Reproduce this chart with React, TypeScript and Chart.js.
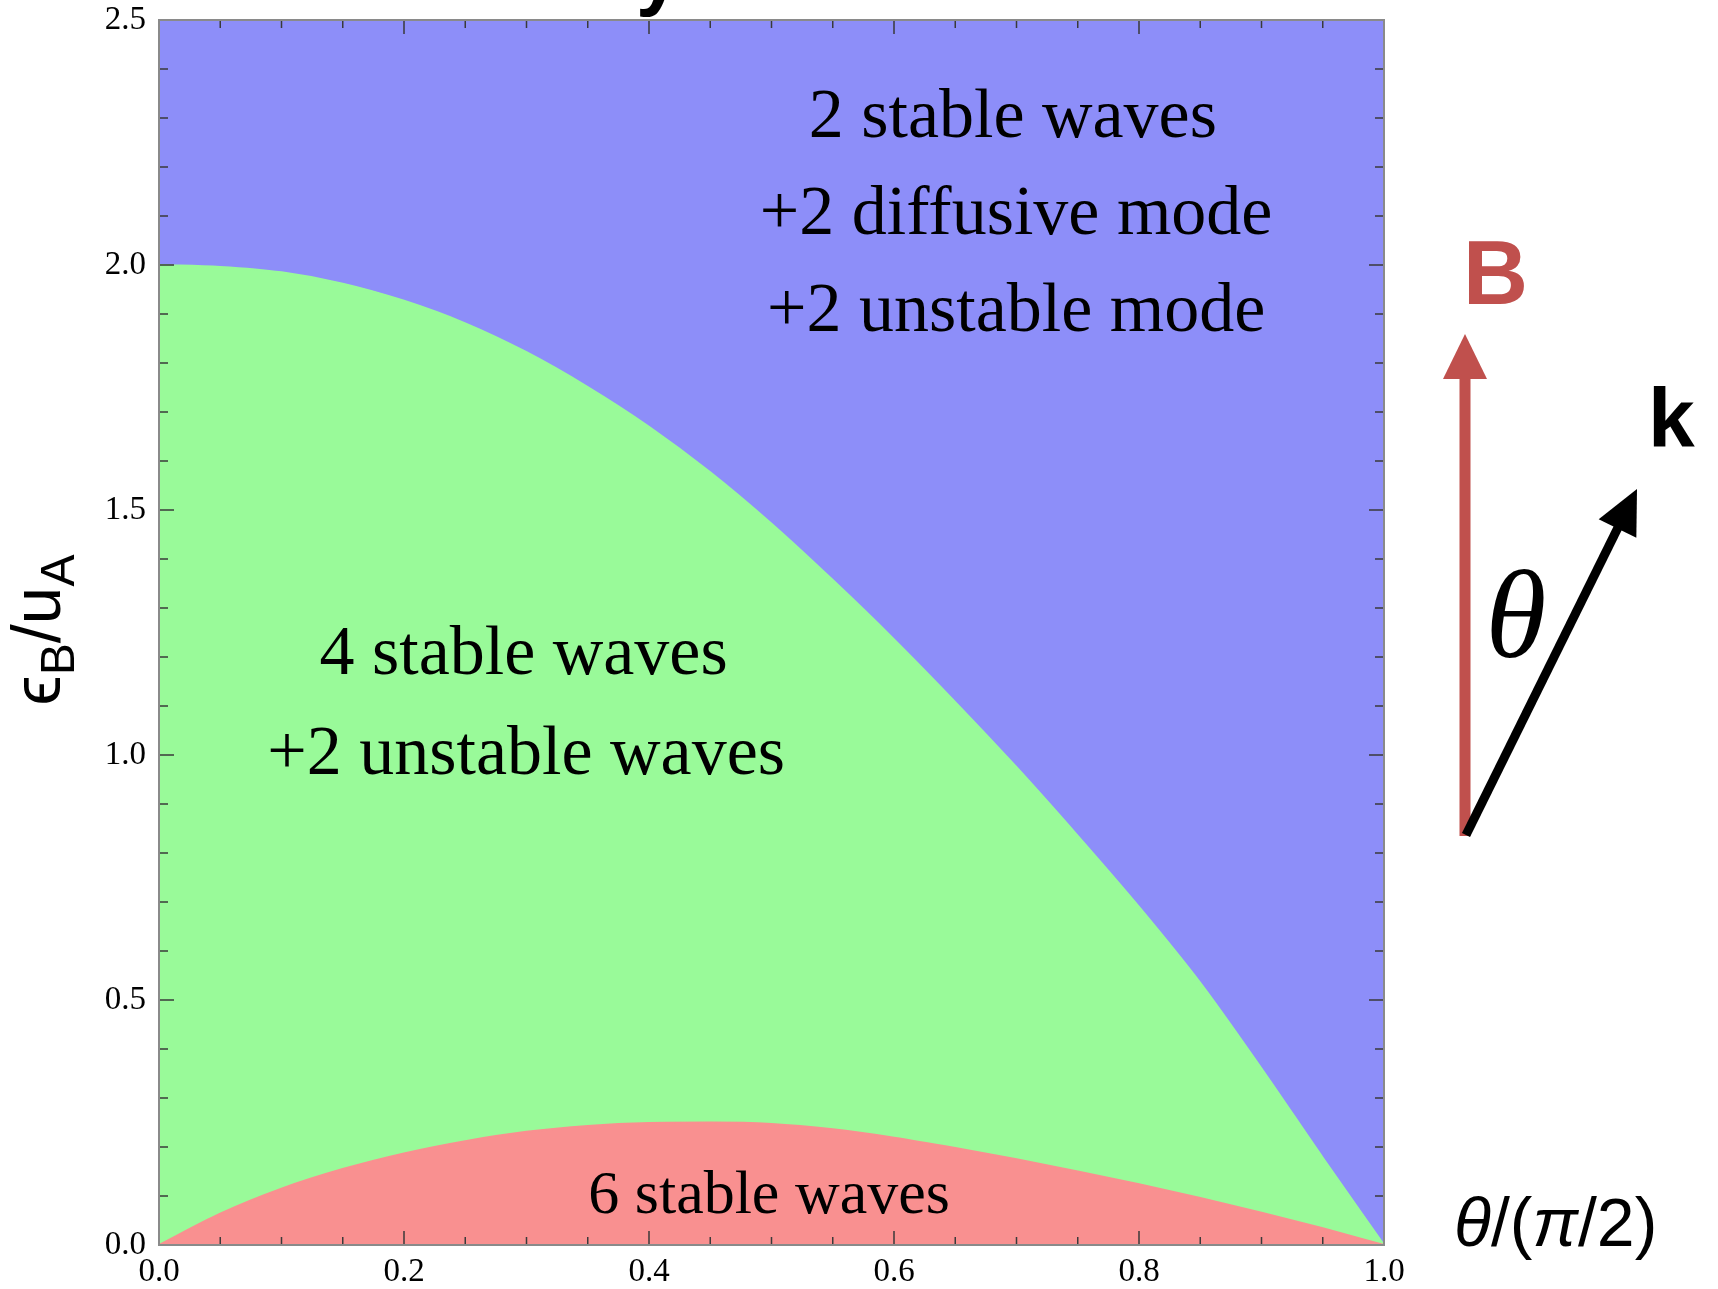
import React, { useEffect, useRef } from 'react';
import { Chart, registerables } from 'chart.js';

Chart.register(...registerables);

// θ/(π/2) sample positions
const thetaValues = [0, 0.05, 0.1, 0.15, 0.2, 0.25, 0.3, 0.35, 0.4, 0.45, 0.5, 0.55, 0.6, 0.65, 0.7, 0.75, 0.8, 0.85, 0.9, 0.95, 1.0];
// boundary between "4 stable + 2 unstable" (green) and "2 stable + diffusive + unstable" (blue)
const upperBoundary = [2.0, 1.996, 1.985, 1.962, 1.927, 1.881, 1.822, 1.751, 1.67, 1.577, 1.472, 1.357, 1.236, 1.108, 0.975, 0.835, 0.69, 0.535, 0.36, 0.178, 0.0];
// boundary between "6 stable waves" (red) and the green region
const lowerBoundary = [0.0, 0.064, 0.115, 0.155, 0.187, 0.212, 0.231, 0.243, 0.249, 0.25, 0.247, 0.236, 0.219, 0.198, 0.175, 0.15, 0.124, 0.096, 0.066, 0.034, 0.0];

const xTickValues = [0, 0.2, 0.4, 0.6, 0.8, 1.0];
const yTickValues = [0, 0.5, 1.0, 1.5, 2.0, 2.5];

const regionTexts = ['2 stable waves', '+2 diffusive mode', '+2 unstable mode', '4 stable waves', '+2 unstable waves', '6 stable waves'];
const regionTextX = [0.697, 0.6997, 0.6997, 0.2976, 0.2997, 0.498];
const regionTextY = [2.261, 2.064, 1.865, 1.165, 0.962, 0.0647];
const regionTextSize = [70, 70, 70, 70, 70, 62];

const BLUE = '#8d8ef9';
const GREEN = '#99fa99';
const RED = '#f99090';
const SERIF = '"Liberation Serif", "Times New Roman", serif';
const SANS = '"Liberation Sans", Arial, "DejaVu Sans", sans-serif';

const decorPlugin = {
  id: 'decor',
  afterDraw(chart: any) {
    const ctx = chart.ctx as CanvasRenderingContext2D;
    const xs = chart.scales.x;
    const ys = chart.scales.y;
    const { left, right, top, bottom } = chart.chartArea;
    ctx.save();

    // tick marks (inside, mirrored)
    ctx.strokeStyle = '#3a3a3a';
    ctx.lineWidth = 1.5;
    for (let i = 0; i <= 20; i++) {
      const v = i / 20;
      const px = xs.getPixelForValue(v);
      const len = i % 4 === 0 ? 14 : 8;
      ctx.beginPath();
      ctx.moveTo(px, bottom);
      ctx.lineTo(px, bottom - len);
      ctx.moveTo(px, top);
      ctx.lineTo(px, top + len);
      ctx.stroke();
    }
    for (let i = 0; i <= 25; i++) {
      const v = i / 10;
      const py = ys.getPixelForValue(v);
      const len = i % 5 === 0 ? 15 : 9;
      ctx.beginPath();
      ctx.moveTo(left, py);
      ctx.lineTo(left + len, py);
      ctx.moveTo(right, py);
      ctx.lineTo(right - len, py);
      ctx.stroke();
    }
    // frame
    ctx.strokeStyle = '#8a8a8a';
    ctx.lineWidth = 2;
    ctx.strokeRect(left, top, right - left, bottom - top);

    // region annotations
    ctx.fillStyle = '#000';
    ctx.textAlign = 'center';
    ctx.textBaseline = 'alphabetic';
    regionTexts.forEach((t, i) => {
      ctx.font = `${regionTextSize[i]}px ${SERIF}`;
      ctx.fillText(t, xs.getPixelForValue(regionTextX[i]), ys.getPixelForValue(regionTextY[i]));
    });

    // y-axis title: ϵB/uA with subscripts
    ctx.save();
    ctx.translate(60, 630);
    ctx.rotate(-Math.PI / 2);
    const mainFont = `68px ${SANS}`;
    const subFont = `48px ${SANS}`;
    const parts: [string, boolean][] = [['ϵ', false], ['B', true], ['/', false], ['u', false], ['A', true]];
    let total = 0;
    const widths = parts.map(([s, sub]) => {
      ctx.font = sub ? subFont : mainFont;
      const w = ctx.measureText(s).width;
      total += w;
      return w;
    });
    let cx = -total / 2;
    ctx.textAlign = 'left';
    parts.forEach(([s, sub], i) => {
      ctx.font = sub ? subFont : mainFont;
      ctx.fillText(s, cx, sub ? 14 : 0);
      cx += widths[i];
    });
    ctx.restore();

    // x-axis title: θ/(π/2)
    ctx.textAlign = 'left';
    let xx = 1454;
    const xParts: [string, boolean][] = [['θ', true], ['/(', false], ['π', true], ['/2)', false]];
    xParts.forEach(([s, it]) => {
      ctx.font = `${it ? 'italic ' : ''}68px ${SANS}`;
      ctx.fillText(s, xx, 1246);
      xx += ctx.measureText(s).width;
    });

    // title fragment (cut off at top)
    ctx.font = `bold 80px ${SANS}`;
    ctx.fillText('y', 636, 0);

    // B arrow
    ctx.strokeStyle = '#c0504d';
    ctx.fillStyle = '#c0504d';
    ctx.lineWidth = 11;
    ctx.beginPath();
    ctx.moveTo(1465, 836);
    ctx.lineTo(1465, 376);
    ctx.stroke();
    ctx.beginPath();
    ctx.moveTo(1465, 334);
    ctx.lineTo(1443, 379);
    ctx.lineTo(1487, 379);
    ctx.closePath();
    ctx.fill();
    ctx.font = `bold 90px ${SANS}`;
    ctx.fillText('B', 1463, 304);

    // k arrow
    const sx = 1466, sy = 835, tx = 1637, ty = 489;
    const dx = tx - sx, dy = ty - sy;
    const L = Math.hypot(dx, dy);
    const ux = dx / L, uy = dy / L;
    const hl = 44, hw = 21;
    const bx = tx - ux * hl, by = ty - uy * hl;
    ctx.strokeStyle = '#000';
    ctx.fillStyle = '#000';
    ctx.lineWidth = 9;
    ctx.beginPath();
    ctx.moveTo(sx, sy);
    ctx.lineTo(bx + ux * 2, by + uy * 2);
    ctx.stroke();
    ctx.beginPath();
    ctx.moveTo(tx, ty);
    ctx.lineTo(bx - uy * hw, by + ux * hw);
    ctx.lineTo(bx + uy * hw, by - ux * hw);
    ctx.closePath();
    ctx.fill();
    ctx.font = `bold 84px ${SANS}`;
    ctx.fillText('k', 1648, 447);

    // θ between arrows
    ctx.font = `italic 124px ${SERIF}`;
    ctx.textAlign = 'center';
    ctx.fillText('θ', 1516, 657);

    ctx.restore();
  },
};

export default function App() {
  const ref = useRef<HTMLCanvasElement>(null);
  useEffect(() => {
    if (!ref.current) return;
    const pts = (ys: number[]) => thetaValues.map((x, i) => ({ x, y: ys[i] }));
    const chart = new Chart(ref.current, {
      type: 'line',
      data: {
        datasets: [
          {
            label: '6 stable waves',
            data: pts(lowerBoundary),
            fill: 'origin',
            backgroundColor: RED,
            borderColor: RED,
            borderWidth: 2,
            pointRadius: 0,
            cubicInterpolationMode: 'monotone',
          },
          {
            label: '4 stable waves +2 unstable waves',
            data: pts(upperBoundary),
            fill: 'origin',
            backgroundColor: GREEN,
            borderColor: GREEN,
            borderWidth: 2,
            pointRadius: 0,
            cubicInterpolationMode: 'monotone',
          },
          {
            label: '2 stable waves +2 diffusive mode +2 unstable mode',
            data: pts(upperBoundary),
            fill: 'end',
            backgroundColor: BLUE,
            borderColor: BLUE,
            borderWidth: 0,
            pointRadius: 0,
            cubicInterpolationMode: 'monotone',
          },
        ],
      },
      options: {
        animation: false,
        responsive: false,
        devicePixelRatio: 1,
        layout: { padding: { left: 0, top: 20, right: 334, bottom: 0 } },
        plugins: { legend: { display: false }, tooltip: { enabled: false }, title: { display: false } },
        scales: {
          x: {
            type: 'linear',
            min: 0,
            max: 1,
            grid: { display: false, drawTicks: false },
            border: { display: false },
            afterBuildTicks: (s: any) => {
              s.ticks = xTickValues.map((v) => ({ value: v }));
            },
            afterFit: (s: any) => {
              s.height = 44;
              s.paddingLeft = 0;
              s.paddingRight = 0;
            },
            ticks: {
              callback: (v: any) => Number(v).toFixed(1),
              color: '#000',
              font: { family: SERIF, size: 33 },
              padding: 8,
              maxRotation: 0,
              autoSkip: false,
            },
          },
          y: {
            type: 'linear',
            min: 0,
            max: 2.5,
            grid: { display: false, drawTicks: false },
            border: { display: false },
            afterBuildTicks: (s: any) => {
              s.ticks = yTickValues.map((v) => ({ value: v }));
            },
            afterFit: (s: any) => {
              s.width = 159;
              s.paddingTop = 0;
              s.paddingBottom = 0;
            },
            ticks: {
              callback: (v: any) => Number(v).toFixed(1),
              color: '#000',
              font: { family: SERIF, size: 33 },
              padding: 13,
              autoSkip: false,
            },
          },
        },
      },
      plugins: [decorPlugin],
    } as any);
    return () => chart.destroy();
  }, []);
  return (
    <div style={{ position: 'absolute', left: 0, top: 0, width: 1718, height: 1289, background: '#fff' }}>
      <canvas ref={ref} width={1718} height={1289} style={{ width: 1718, height: 1289, display: 'block' }} />
    </div>
  );
}
